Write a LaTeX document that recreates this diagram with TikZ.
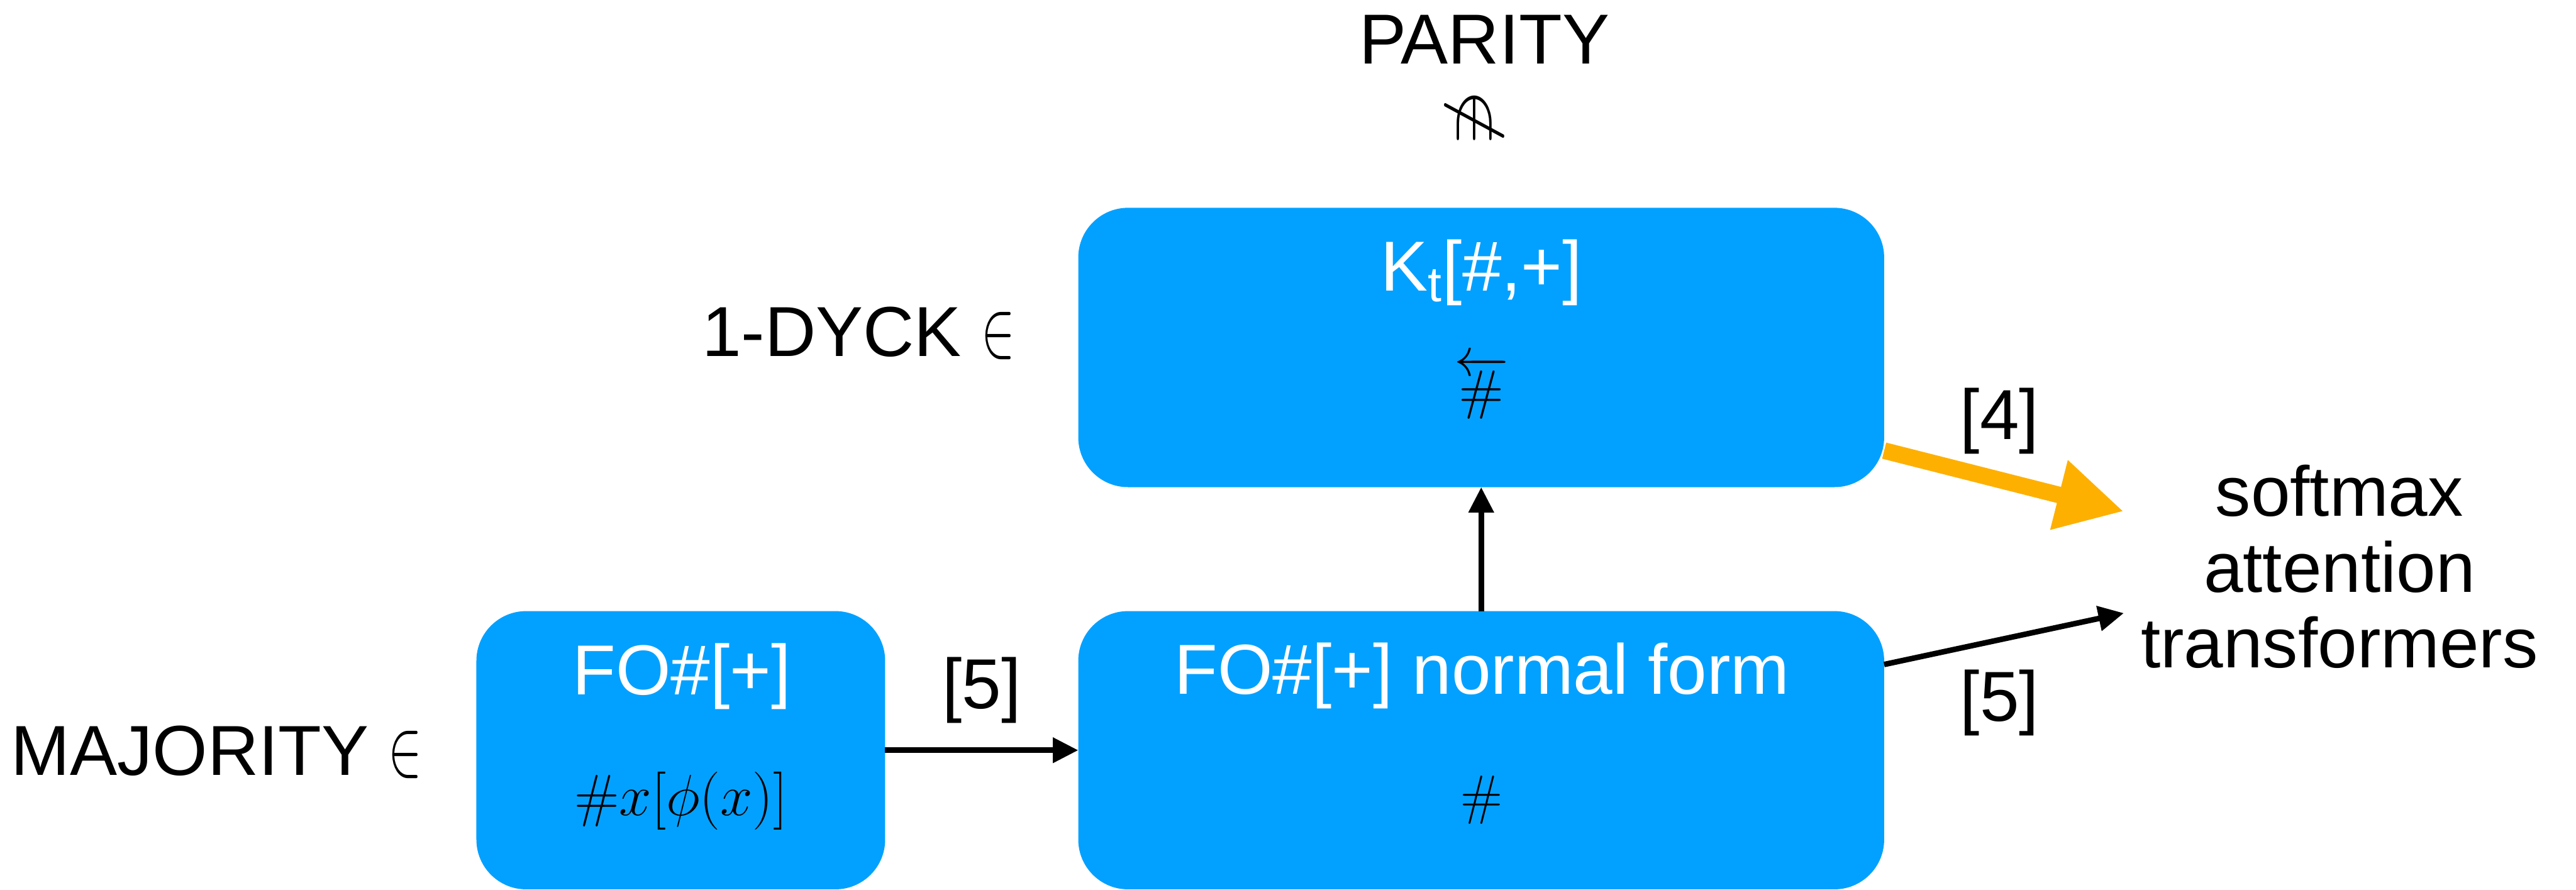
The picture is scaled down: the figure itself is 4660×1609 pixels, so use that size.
\RequirePackage{fix-cm}
\documentclass[tikz,border=0pt]{standalone}
\usepackage[no-math]{fontspec}
\setmainfont{Liberation Sans}
\usetikzlibrary{arrows.meta}
\definecolor{boxblue}{RGB}{3,161,255}
\definecolor{linkorange}{RGB}{254,176,0}
% symbols set at 10pt and enlarged, so the 10pt design is used throughout
\newcommand{\memberof}{\scalebox{2.6}[4.2]{\fontsize{10}{12}\selectfont$\in$}}
\newcommand{\notmemberdown}{\scalebox{3.1}[4.6]{\rotatebox{-90}{\fontsize{10}{12}\selectfont$\notin$}}}
\newcommand{\backcount}{\scalebox{2.8}{\fontsize{10}{12}\selectfont$\overleftarrow{\#}$}}
\begin{document}
\begin{tikzpicture}[x=0.01cm, y=-0.01cm,
  every node/.style={inner sep=0pt, outer sep=0pt},
  box/.style={fill=boxblue, draw=none, rounded corners=0.9cm},
  lbl/.style={font=\fontsize{36.4}{39}\selectfont},
  head/.style={font=\fontsize{36.4}{39}\selectfont, text=white},
  sym/.style={font=\fontsize{28}{30}\selectfont},
  link/.style={line width=0.1cm, -{Triangle[length=0.46cm,width=0.44cm]}},
  strong/.style={line width=0.3cm, draw=linkorange, -{Triangle[length=1.21cm,width=1.21cm]}}]
\useasboundingbox (0,0) rectangle (4660,1609);

% blocks
\node[box, minimum width=14.57cm, minimum height=5.05cm] (kt) at (2679.5,628.5) {};
\node[box, minimum width=7.39cm, minimum height=5.03cm] (fo) at (1231.5,1357) {};
\node[box, minimum width=14.57cm, minimum height=5.03cm] (nf) at (2679.5,1357) {};

% block contents
\node[head, anchor=base] (kttitle) at (2680,526) {K\textsubscript{t}[\#,+]};
\node (ktop) at (2680,701) {\backcount};
\node[head, anchor=base] (fotitle) at (1233,1256) {FO\#[+]};
\node[font=\fontsize{29.9}{32}\selectfont, anchor=base] (foform) at (1232,1475) {$\#x[\phi(x)]$};
\node[head, anchor=base] (nftitle) at (2681,1255) {FO\#[+] normal form};
\node[sym] (nfop) at (2680,1447) {$\#$};

% languages
\node[lbl, anchor=base] (parity) at (2685,115) {PARITY};
\node (notin) at (2679,214) {\notmemberdown};
\node[lbl, anchor=base east] (dyck) at (1836,644) {1-DYCK \memberof};
\node[lbl, anchor=base east] (maj) at (764,1402) {MAJORITY \memberof};

% target model
\node[lbl, align=center] (soft) at (4232,1025) {softmax\\attention\\transformers};
\coordinate (end4) at (3842,925);
\coordinate (end5) at (3842,1109);

% connectors
\draw[link] (fo.east) -- (nf.west);
\draw[link] (nf.north) -- (kt.south);
\draw[link] ([yshift=1.55cm]nf.east) -- (end5);
\draw[strong] ([yshift=-1.865cm]kt.east) -- (end4);

% citations
\node[lbl] (cite5a) at (1776,1249) {[5]};
\node[lbl] (cite4) at (3617,762) {[4]};
\node[lbl] (cite5b) at (3617,1271) {[5]};
\end{tikzpicture}
\end{document}
